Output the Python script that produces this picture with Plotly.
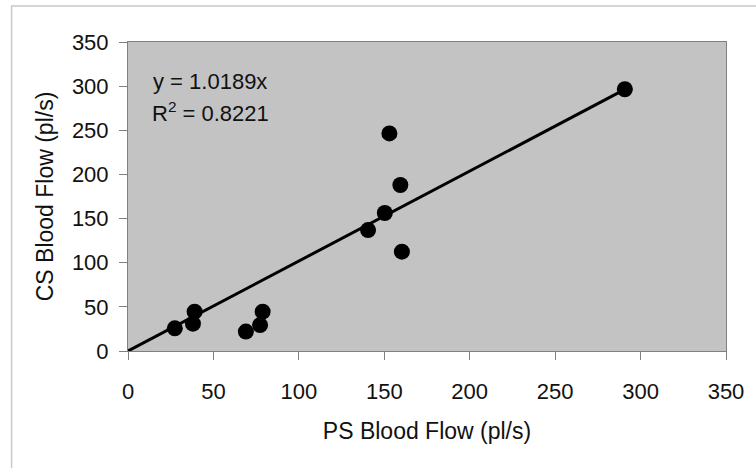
import plotly.graph_objects as go

ps_flow = [27.4, 38, 39, 69, 77.3, 78.8, 140.5, 150.3, 153, 159.4, 160.3, 290.8]
cs_flow = [25.7, 31, 44.5, 22, 29.4, 44.5, 137, 156.3, 246.5, 188, 112.5, 296.5]
slope = 1.0189
r2 = 0.8221
tick_vals = [0, 50, 100, 150, 200, 250, 300, 350]

FONT = "Liberation Sans, Arial, sans-serif"
TXT = "#111111"

fig = go.Figure()
xmax = max(ps_flow)
fig.add_trace(go.Scatter(x=[0, xmax], y=[0, slope * xmax], mode="lines",
                         line=dict(color="black", width=3), showlegend=False,
                         hoverinfo="skip"))
fig.add_trace(go.Scatter(x=ps_flow, y=cs_flow, mode="markers",
                         marker=dict(color="black", size=16), showlegend=False))

axis_common = dict(range=[0, 350], tickvals=tick_vals, ticks="outside", ticklen=8,
                   tickcolor="#808080", showgrid=False, zeroline=False,
                   showline=True, linecolor="#808080", linewidth=1, mirror=True,
                   tickfont=dict(family=FONT, size=22, color=TXT))

fig.update_layout(
    width=756, height=468,
    margin=dict(l=128, r=27, t=42, b=117),
    paper_bgcolor="white", plot_bgcolor="#c3c3c3",
    xaxis=dict(**axis_common, ticklabelstandoff=13,
               title=dict(text="PS Blood Flow (pl/s)", standoff=19,
                          font=dict(family=FONT, size=23, color=TXT))),
    yaxis=dict(**axis_common, ticklabelstandoff=6,
               title=dict(text="CS Blood Flow (pl/s)", standoff=11,
                          font=dict(family=FONT, size=23, color=TXT))),
    annotations=[
        dict(x=0.039, y=(351 - 81) / 309, xref="paper", yref="paper", xanchor="left",
             yanchor="middle", text=f"y = {slope}x", showarrow=False,
             font=dict(family=FONT, size=22, color=TXT)),
        dict(x=0.037, y=(351 - 112) / 309, xref="paper", yref="paper", xanchor="left",
             yanchor="middle", text=f"R<sup>2</sup> = {r2}", showarrow=False,
             font=dict(family=FONT, size=22, color=TXT)),
    ],
    shapes=[dict(type="rect", xref="paper", yref="paper",
                 x0=(11 - 128) / 601, x1=(770 - 128) / 601,
                 y0=(351 - 480) / 309, y1=(351 - 6) / 309,
                 line=dict(color="#c8c8c8", width=1.5), layer="below")],
)

fig.write_html("out.html", config={"displayModeBar": False},
               post_script="document.body.style.margin='0';document.body.style.overflow='hidden';")
